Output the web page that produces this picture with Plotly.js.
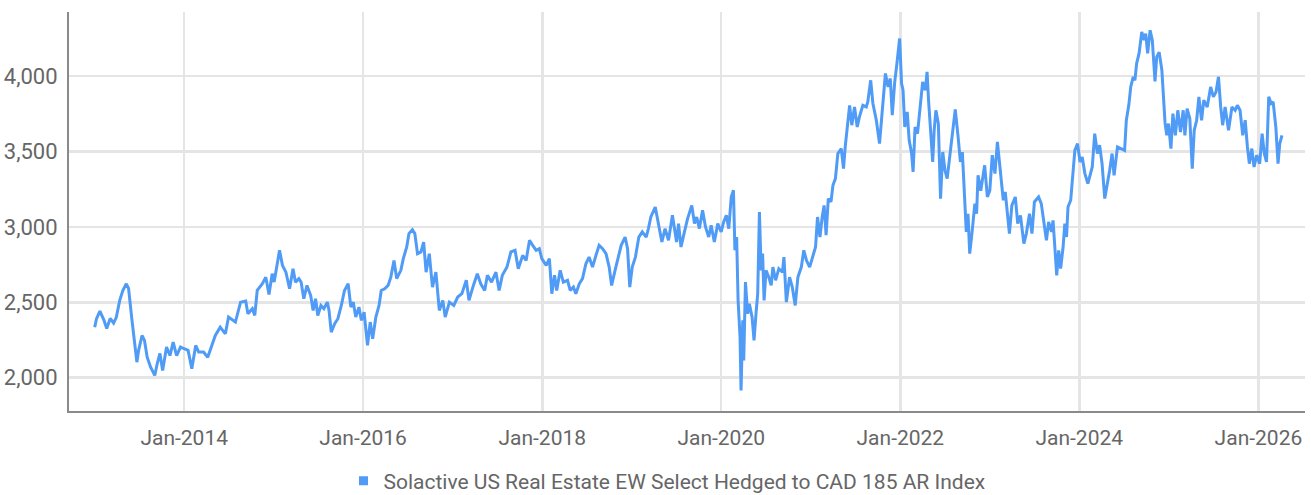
<!DOCTYPE html>
<html>
<head>
<meta charset="utf-8">
<script src="https://cdn.plot.ly/plotly-3.0.1.min.js"></script>
<style>
html,body{margin:0;padding:0;background:#fff;}
#chart{width:1311px;height:495px;}
</style>
</head>
<body>
<div id="chart"></div>
<script>
const seriesName = "Solactive US Real Estate EW Select Hedged to CAD 185 AR Index";
const xTickVals = ["2014-01-01","2016-01-01","2018-01-01","2020-01-01","2022-01-01","2024-01-01","2026-01-01"];
const xTickText = ["Jan-2014","Jan-2016","Jan-2018","Jan-2020","Jan-2022","Jan-2024","Jan-2026"];
const yTickVals = [2000,2500,3000,3500,4000];

const dates = [
"2013-01-01","2013-01-08","2013-01-22","2013-02-08","2013-02-19","2013-03-05","2013-03-19","2013-03-30","2013-04-13","2013-04-26",
"2013-05-10","2013-05-19","2013-06-02","2013-06-16","2013-06-22","2013-06-29","2013-07-13","2013-07-23","2013-08-03","2013-08-17",
"2013-09-03","2013-09-13","2013-09-24","2013-10-05","2013-10-21","2013-11-04","2013-11-17","2013-12-01","2013-12-17","2014-01-01",
"2014-01-17","2014-02-01","2014-02-17","2014-03-01","2014-03-21","2014-04-07","2014-04-18","2014-05-08","2014-05-28","2014-06-18",
"2014-07-01","2014-07-29","2014-08-19","2014-09-09","2014-09-18","2014-10-06","2014-10-16","2014-10-26","2014-11-16","2014-11-30",
"2014-12-13","2014-12-26","2015-01-03","2015-01-16","2015-01-25","2015-02-06","2015-02-20","2015-03-07","2015-03-21","2015-03-31",
"2015-04-14","2015-04-23","2015-05-04","2015-05-17","2015-06-01","2015-06-11","2015-06-21","2015-06-30","2015-07-13","2015-07-25",
"2015-08-08","2015-08-15","2015-08-24","2015-09-07","2015-09-20","2015-10-04","2015-10-17","2015-11-01","2015-11-12","2015-11-22",
"2015-12-02","2015-12-15","2015-12-25","2016-01-05","2016-01-19","2016-01-30","2016-02-09","2016-02-22","2016-03-06","2016-03-15",
"2016-03-29","2016-04-12","2016-04-23","2016-05-06","2016-05-17","2016-06-03","2016-06-13","2016-06-27","2016-07-06","2016-07-20",
"2016-07-30","2016-08-10","2016-08-24","2016-09-04","2016-09-14","2016-09-27","2016-10-10","2016-10-24","2016-11-07","2016-11-21",
"2016-12-01","2016-12-18","2017-01-05","2017-01-21","2017-02-07","2017-02-25","2017-03-08","2017-03-26","2017-04-11","2017-04-25",
"2017-05-11","2017-05-22","2017-06-08","2017-06-26","2017-07-09","2017-07-22","2017-08-10","2017-08-26","2017-09-12","2017-09-25",
"2017-10-13","2017-10-27","2017-11-10","2017-11-23","2017-12-07","2017-12-20","2017-12-30","2018-01-17","2018-01-30","2018-02-09",
"2018-02-20","2018-03-01","2018-03-15","2018-03-28","2018-04-14","2018-04-25","2018-05-08","2018-05-18","2018-06-01","2018-06-14",
"2018-06-28","2018-07-11","2018-07-25","2018-08-08","2018-08-21","2018-09-04","2018-09-18","2018-10-01","2018-10-11","2018-10-25",
"2018-11-08","2018-11-19","2018-12-05","2018-12-15","2018-12-24","2019-01-03","2019-01-16","2019-01-30","2019-02-13","2019-03-01",
"2019-03-10","2019-03-20","2019-04-07","2019-04-20","2019-05-04","2019-05-17","2019-05-31","2019-06-16","2019-07-03","2019-07-11",
"2019-07-21","2019-08-04","2019-08-17","2019-09-03","2019-09-14","2019-09-23","2019-10-04","2019-10-17","2019-10-29","2019-11-11",
"2019-11-21","2019-12-04","2019-12-18","2020-01-01","2020-01-11","2020-01-22","2020-02-01","2020-02-11","2020-02-20","2020-02-26",
"2020-03-04","2020-03-10","2020-03-18","2020-03-22","2020-03-29","2020-04-02","2020-04-09","2020-04-18","2020-04-25","2020-05-06",
"2020-05-14","2020-05-22","2020-05-29","2020-06-05","2020-06-12","2020-06-18","2020-06-24","2020-07-02","2020-07-13","2020-07-23",
"2020-07-30","2020-08-10","2020-08-23","2020-09-07","2020-09-13","2020-09-23","2020-10-06","2020-10-17","2020-10-29","2020-11-09",
"2020-11-23","2020-12-03","2020-12-14","2020-12-27","2021-01-10","2021-01-20","2021-01-28","2021-02-07","2021-02-16","2021-02-24",
"2021-03-04","2021-03-13","2021-03-24","2021-04-01","2021-04-11","2021-04-21","2021-05-05","2021-05-14","2021-05-21","2021-06-01",
"2021-06-08","2021-06-17","2021-06-28","2021-07-09","2021-07-18","2021-08-01","2021-08-15","2021-08-21","2021-09-02","2021-09-11",
"2021-09-25","2021-10-08","2021-10-17","2021-11-01","2021-11-12","2021-11-21","2021-11-29","2021-12-09","2021-12-18","2021-12-29",
"2022-01-06","2022-01-12","2022-01-19","2022-01-29","2022-02-06","2022-02-16","2022-02-22","2022-03-02","2022-03-12","2022-03-23",
"2022-04-02","2022-04-13","2022-04-20","2022-04-26","2022-05-06","2022-05-13","2022-05-19","2022-05-26","2022-06-05","2022-06-14",
"2022-06-23","2022-07-02","2022-07-11","2022-07-20","2022-07-30","2022-08-13","2022-08-24","2022-09-03","2022-09-11","2022-09-20",
"2022-09-27","2022-10-04","2022-10-11","2022-10-20","2022-11-01","2022-11-08","2022-11-14","2022-11-25","2022-12-04","2022-12-11",
"2022-12-22","2023-01-01","2023-01-11","2023-01-22","2023-02-01","2023-02-12","2023-02-25","2023-03-05","2023-03-15","2023-03-22",
"2023-04-01","2023-04-15","2023-04-25","2023-05-06","2023-05-20","2023-05-30","2023-06-12","2023-06-22","2023-07-02","2023-07-19",
"2023-07-30","2023-08-09","2023-08-20","2023-08-29","2023-09-10","2023-09-16","2023-09-23","2023-10-01","2023-10-09","2023-10-17",
"2023-10-27","2023-11-03","2023-11-10","2023-11-16","2023-11-27","2023-12-07","2023-12-14","2023-12-25","2024-01-04","2024-01-13",
"2024-01-24","2024-02-05","2024-02-14","2024-02-23","2024-03-04","2024-03-15","2024-03-24","2024-04-03","2024-04-14","2024-04-25",
"2024-05-04","2024-05-14","2024-05-22","2024-06-05","2024-06-21","2024-07-04","2024-07-11","2024-07-21","2024-07-29","2024-08-08",
"2024-08-15","2024-08-22","2024-09-01","2024-09-12","2024-09-21","2024-09-28","2024-10-06","2024-10-16","2024-10-25","2024-11-01",
"2024-11-05","2024-11-12","2024-11-22","2024-12-03","2024-12-09","2024-12-16","2024-12-23","2024-12-30","2025-01-09","2025-01-17",
"2025-01-27","2025-02-06","2025-02-17","2025-02-28","2025-03-07","2025-03-16","2025-03-27","2025-04-06","2025-04-14","2025-04-24",
"2025-05-03","2025-05-14","2025-05-23","2025-06-06","2025-06-20","2025-07-01","2025-07-12","2025-07-22","2025-07-31","2025-08-08",
"2025-08-18","2025-09-01","2025-09-15","2025-09-28","2025-10-07","2025-10-18","2025-10-29","2025-11-08","2025-11-17","2025-11-25",
"2025-12-05","2025-12-14","2025-12-25","2026-01-06","2026-01-16","2026-01-25","2026-02-03","2026-02-12","2026-02-22","2026-03-02",
"2026-03-13","2026-03-22","2026-03-29","2026-04-07"
];

const values = [
2335,2390,2442,2380,2327,2393,2362,2400,2513,2579,
2623,2592,2380,2203,2103,2181,2280,2247,2136,2070,
2015,2094,2161,2048,2203,2147,2236,2147,2203,2192,
2181,2060,2214,2170,2170,2136,2192,2280,2335,2291,
2402,2369,2501,2508,2424,2458,2413,2579,2623,2667,
2552,2690,2634,2745,2845,2745,2700,2590,2723,2634,
2657,2634,2524,2612,2546,2446,2524,2413,2479,2458,
2501,2446,2302,2358,2391,2479,2579,2623,2468,2501,
2402,2468,2380,2435,2214,2369,2258,2402,2479,2579,
2590,2612,2667,2778,2657,2712,2790,2867,2956,2982,
2956,2823,2834,2900,2700,2823,2601,2700,2446,2513,
2402,2501,2479,2535,2557,2646,2513,2612,2690,2623,
2579,2679,2634,2700,2579,2679,2734,2834,2845,2723,
2811,2778,2911,2878,2845,2856,2790,2745,2790,2557,
2679,2579,2712,2634,2646,2579,2601,2557,2623,2657,
2756,2800,2734,2811,2878,2856,2823,2734,2612,2712,
2800,2878,2933,2856,2601,2734,2800,2933,2967,2933,
2989,3066,3132,3011,2900,2989,2911,3077,2900,3022,
2867,2967,3055,3143,3022,3066,2989,3110,3000,2933,
3011,2900,3022,2967,3033,3077,2989,3199,3243,2845,
2933,2513,2269,1915,2380,2114,2634,2424,2491,2402,
2247,2424,2557,3099,2712,2823,2513,2712,2667,2612,
2734,2646,2723,2700,2800,2501,2667,2601,2479,2667,
2734,2845,2778,2734,2823,2867,3066,2933,3066,3143,
2945,3188,3166,3276,3321,3487,3520,3387,3531,3730,
3807,3675,3796,3663,3730,3807,3796,3830,3973,3819,
3708,3553,3752,4018,3929,3985,3741,3962,4084,4250,
3951,3907,3663,3763,3575,3487,3365,3663,3619,3819,
3962,3907,4029,3841,3553,3431,3641,3774,3686,3188,
3497,3376,3321,3442,3575,3779,3608,3431,3497,3221,
2967,3088,2823,2956,3155,3088,3343,3240,3354,3409,
3199,3243,3476,3354,3564,3376,3177,3232,3044,2956,
3143,3199,3022,3077,2889,2956,3088,2956,3166,3199,
3155,3044,2911,3033,2967,3044,2867,2679,2845,2723,
2867,3022,2933,3132,3177,3365,3508,3553,3431,3464,
3354,3287,3354,3398,3619,3487,3542,3420,3188,3287,
3376,3487,3343,3531,3520,3508,3708,3807,3929,3996,
3973,4084,4151,4294,4239,4283,4151,4305,4239,4010,
3965,4128,4160,4040,3907,3690,3608,3686,3520,3752,
3608,3774,3630,3774,3608,3785,3719,3387,3641,3708,
3863,3708,3841,3796,3929,3863,3896,3996,3796,3675,
3796,3641,3796,3774,3807,3774,3608,3708,3531,3420,
3520,3398,3476,3420,3619,3487,3431,3863,3819,3830,
3663,3420,3553,3608
];

const lineColor = "#4f9bf6";
const textColor = "#666666";
const fontFamily = "Roboto, 'Liberation Sans', sans-serif";

const traces = [
  {
    x: dates, y: values, type: "scatter", mode: "lines",
    line: {color: lineColor, width: 3},
    showlegend: false, hoverinfo: "x+y"
  },
  {
    x: [null], y: [null], type: "scatter", mode: "markers",
    marker: {symbol: "square", size: 9, color: lineColor},
    name: seriesName, showlegend: true
  }
];

const layout = {
  width: 1311, height: 495,
  margin: {l: 69, r: 6, t: 12, b: 84, autoexpand: false},
  paper_bgcolor: "#ffffff", plot_bgcolor: "#ffffff",
  font: {family: fontFamily, color: textColor, size: 22},
  xaxis: {
    type: "date",
    range: ["2012-09-18", "2026-07-10"],
    tickvals: xTickVals, ticktext: xTickText,
    showgrid: true, gridcolor: "#e5e5e5", gridwidth: 2.5,
    showline: true, linecolor: "#8a8a8a", linewidth: 2,
    zeroline: false, ticks: "",
    tickfont: {family: fontFamily, size: 21, color: textColor},
    ticklabelstandoff: 7
  },
  yaxis: {
    range: [1779, 4426],
    tickvals: yTickVals, tickformat: ",d",
    showgrid: true, gridcolor: "#e5e5e5", gridwidth: 2.5,
    showline: true, linecolor: "#8a8a8a", linewidth: 2,
    zeroline: false, ticks: "",
    tickfont: {family: fontFamily, size: 22, color: textColor},
    ticklabelstandoff: 5
  },
  showlegend: true,
  legend: {
    orientation: "h",
    xref: "container", yref: "container",
    x: 0.262, xanchor: "left", y: 0.028, yanchor: "middle",
    font: {family: fontFamily, size: 21, color: textColor},
    itemwidth: 30, tracegroupgap: 0, bgcolor: "rgba(0,0,0,0)"
  }
};

Plotly.newPlot("chart", traces, layout, {displayModeBar: false, staticPlot: true});
</script>
</body>
</html>
